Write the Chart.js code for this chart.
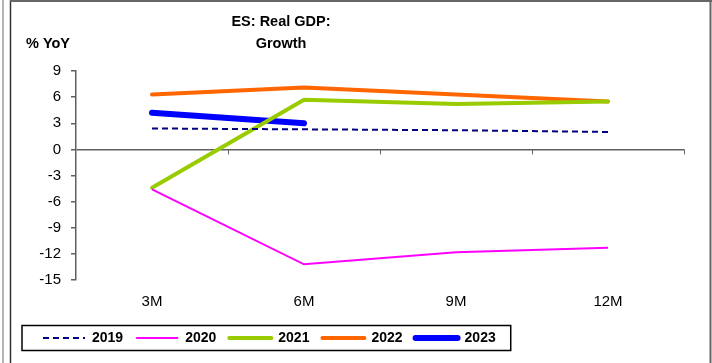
<!DOCTYPE html>
<html>
<head>
<meta charset="utf-8">
<script src="https://cdn.jsdelivr.net/npm/chart.js@4.4.0/dist/chart.umd.min.js"></script>
<style>
  html, body { margin: 0; padding: 0; background: #fff; }
  #wrap { width: 712px; height: 363px; }
</style>
</head>
<body>
<div id="wrap"><canvas id="gdpChart" width="712" height="363"></canvas></div>
<script>
// Data
const periods = ['3M', '6M', '9M', '12M'];
const growth2019 = [2.4, 2.3, 2.2, 2.0];
const growth2020 = [-4.6, -13.2, -11.8, -11.3];
const growth2021 = [-4.4, 5.7, 5.2, 5.5];
const growth2022 = [6.3, 7.1, 6.3, 5.5];
const growth2023 = [4.2, 3.0];
const yTicks = [9, 6, 3, 0, -3, -6, -9, -12, -15];

const FONT = '"Liberation Sans", Arial, sans-serif';
const axisGrey = '#606060';

// frame, title, x tick marks on the zero line, legend border
const decor = {
  id: 'decor',
  beforeDraw(chart) {
    const { ctx, width, height } = chart;
    ctx.save();
    ctx.fillStyle = '#fff';
    ctx.fillRect(0, 0, width, height);
    const seg = (x1, y1, x2, y2, color, w) => {
      ctx.strokeStyle = color;
      ctx.lineWidth = w;
      ctx.beginPath();
      ctx.moveTo(x1, y1);
      ctx.lineTo(x2, y2);
      ctx.stroke();
    };
    seg(3, 0, 3, height, '#b4b4b4', 2);
    seg(10.5, 0, 10.5, height, '#333', 1.5);
    seg(10, 1, width, 1, '#666', 2);
    seg(710.5, 0, 710.5, height, '#666', 2);
    ctx.restore();
  },
  afterDraw(chart) {
    const { ctx, scales: { x, y } } = chart;
    ctx.save();
    // title
    ctx.fillStyle = '#000';
    ctx.font = 'bold 14.5px ' + FONT;
    ctx.textAlign = 'center';
    ctx.textBaseline = 'middle';
    ctx.fillText('ES: Real GDP:', 281, 22);
    ctx.fillText('Growth', 281, 44);
    ctx.textAlign = 'left';
    ctx.fillText('% YoY', 26, 44);
    // tick marks hanging from the zero line between categories
    const y0 = y.getPixelForValue(0);
    ctx.strokeStyle = axisGrey;
    ctx.lineWidth = 1;
    for (let i = 1; i <= periods.length; i++) {
      const px = Math.round(x.getPixelForValue(i - 0.5)) + 0.5;
      ctx.beginPath();
      ctx.moveTo(px, y0);
      ctx.lineTo(px, y0 + 5);
      ctx.stroke();
    }
    // legend border
    const hb = chart.legend.legendHitBoxes;
    if (hb && hb.length) {
      const last = hb[hb.length - 1];
      const cy = hb[0].top + hb[0].height / 2;
      const left = hb[0].left - 21;
      const right = last.left + last.width + 15;
      ctx.strokeStyle = '#000';
      ctx.lineWidth = 1.5;
      ctx.strokeRect(left, cy - 12.5, right - left, 25);
    }
    ctx.restore();
  }
};

new Chart(document.getElementById('gdpChart'), {
  type: 'line',
  data: {
    labels: periods,
    datasets: [
      { label: '2019', data: growth2019, borderColor: '#000080', backgroundColor: '#000080', borderWidth: 2, borderDash: [6, 4] },
      { label: '2020', data: growth2020, borderColor: '#ff00ff', backgroundColor: '#ff00ff', borderWidth: 2 },
      { label: '2021', data: growth2021, borderColor: '#99cc00', backgroundColor: '#99cc00', borderWidth: 4, borderCapStyle: 'round' },
      { label: '2022', data: growth2022, borderColor: '#ff6600', backgroundColor: '#ff6600', borderWidth: 4, borderCapStyle: 'round' },
      { label: '2023', data: growth2023, borderColor: '#0000ff', backgroundColor: '#0000ff', borderWidth: 6, borderCapStyle: 'round' }
    ]
  },
  options: {
    responsive: false,
    animation: false,
    devicePixelRatio: 1,
    elements: {
      line: { tension: 0, fill: false },
      point: { radius: 0, hoverRadius: 0, pointStyle: 'line' }
    },
    layout: { padding: { left: 30, right: 28, top: 71, bottom: 8 } },
    scales: {
      x: {
        offset: true,
        grid: { display: false, drawTicks: false },
        border: { display: false },
        ticks: { color: '#000', font: { family: FONT, size: 15 }, padding: 13, maxRotation: 0 },
        afterFit: s => { s.height = 38; }
      },
      y: {
        min: Math.min(...yTicks),
        max: Math.max(...yTicks),
        ticks: { stepSize: 3, color: '#000', font: { family: FONT, size: 15 }, padding: 10 },
        grid: {
          color: c => (c.tick && c.tick.value === 0 ? axisGrey : 'rgba(0,0,0,0)'),
          tickColor: axisGrey,
          tickLength: 5,
          lineWidth: 1.5
        },
        border: { display: true, color: axisGrey, width: 1.5 },
        afterFit: s => { s.width = 46; }
      }
    },
    plugins: {
      tooltip: { enabled: false },
      title: { display: false },
      legend: {
        position: 'bottom',
        align: 'start',
        labels: {
          usePointStyle: true,
          pointStyleWidth: 42,
          boxHeight: 6,
          padding: 13,
          color: '#000',
          font: { family: FONT, size: 14, weight: 'bold' },
          // take line width, dash and caps from the dataset, not the point
          generateLabels: chart => Chart.defaults.plugins.legend.labels.generateLabels(chart).map(item => {
            const ds = chart.data.datasets[item.datasetIndex];
            item.lineWidth = ds.borderWidth;
            item.lineDash = ds.borderDash || [];
            item.lineCap = ds.borderCapStyle || 'butt';
            item.strokeStyle = ds.borderColor;
            item.pointStyle = 'line';
            return item;
          })
        }
      }
    }
  },
  plugins: [decor]
});
</script>
</body>
</html>
